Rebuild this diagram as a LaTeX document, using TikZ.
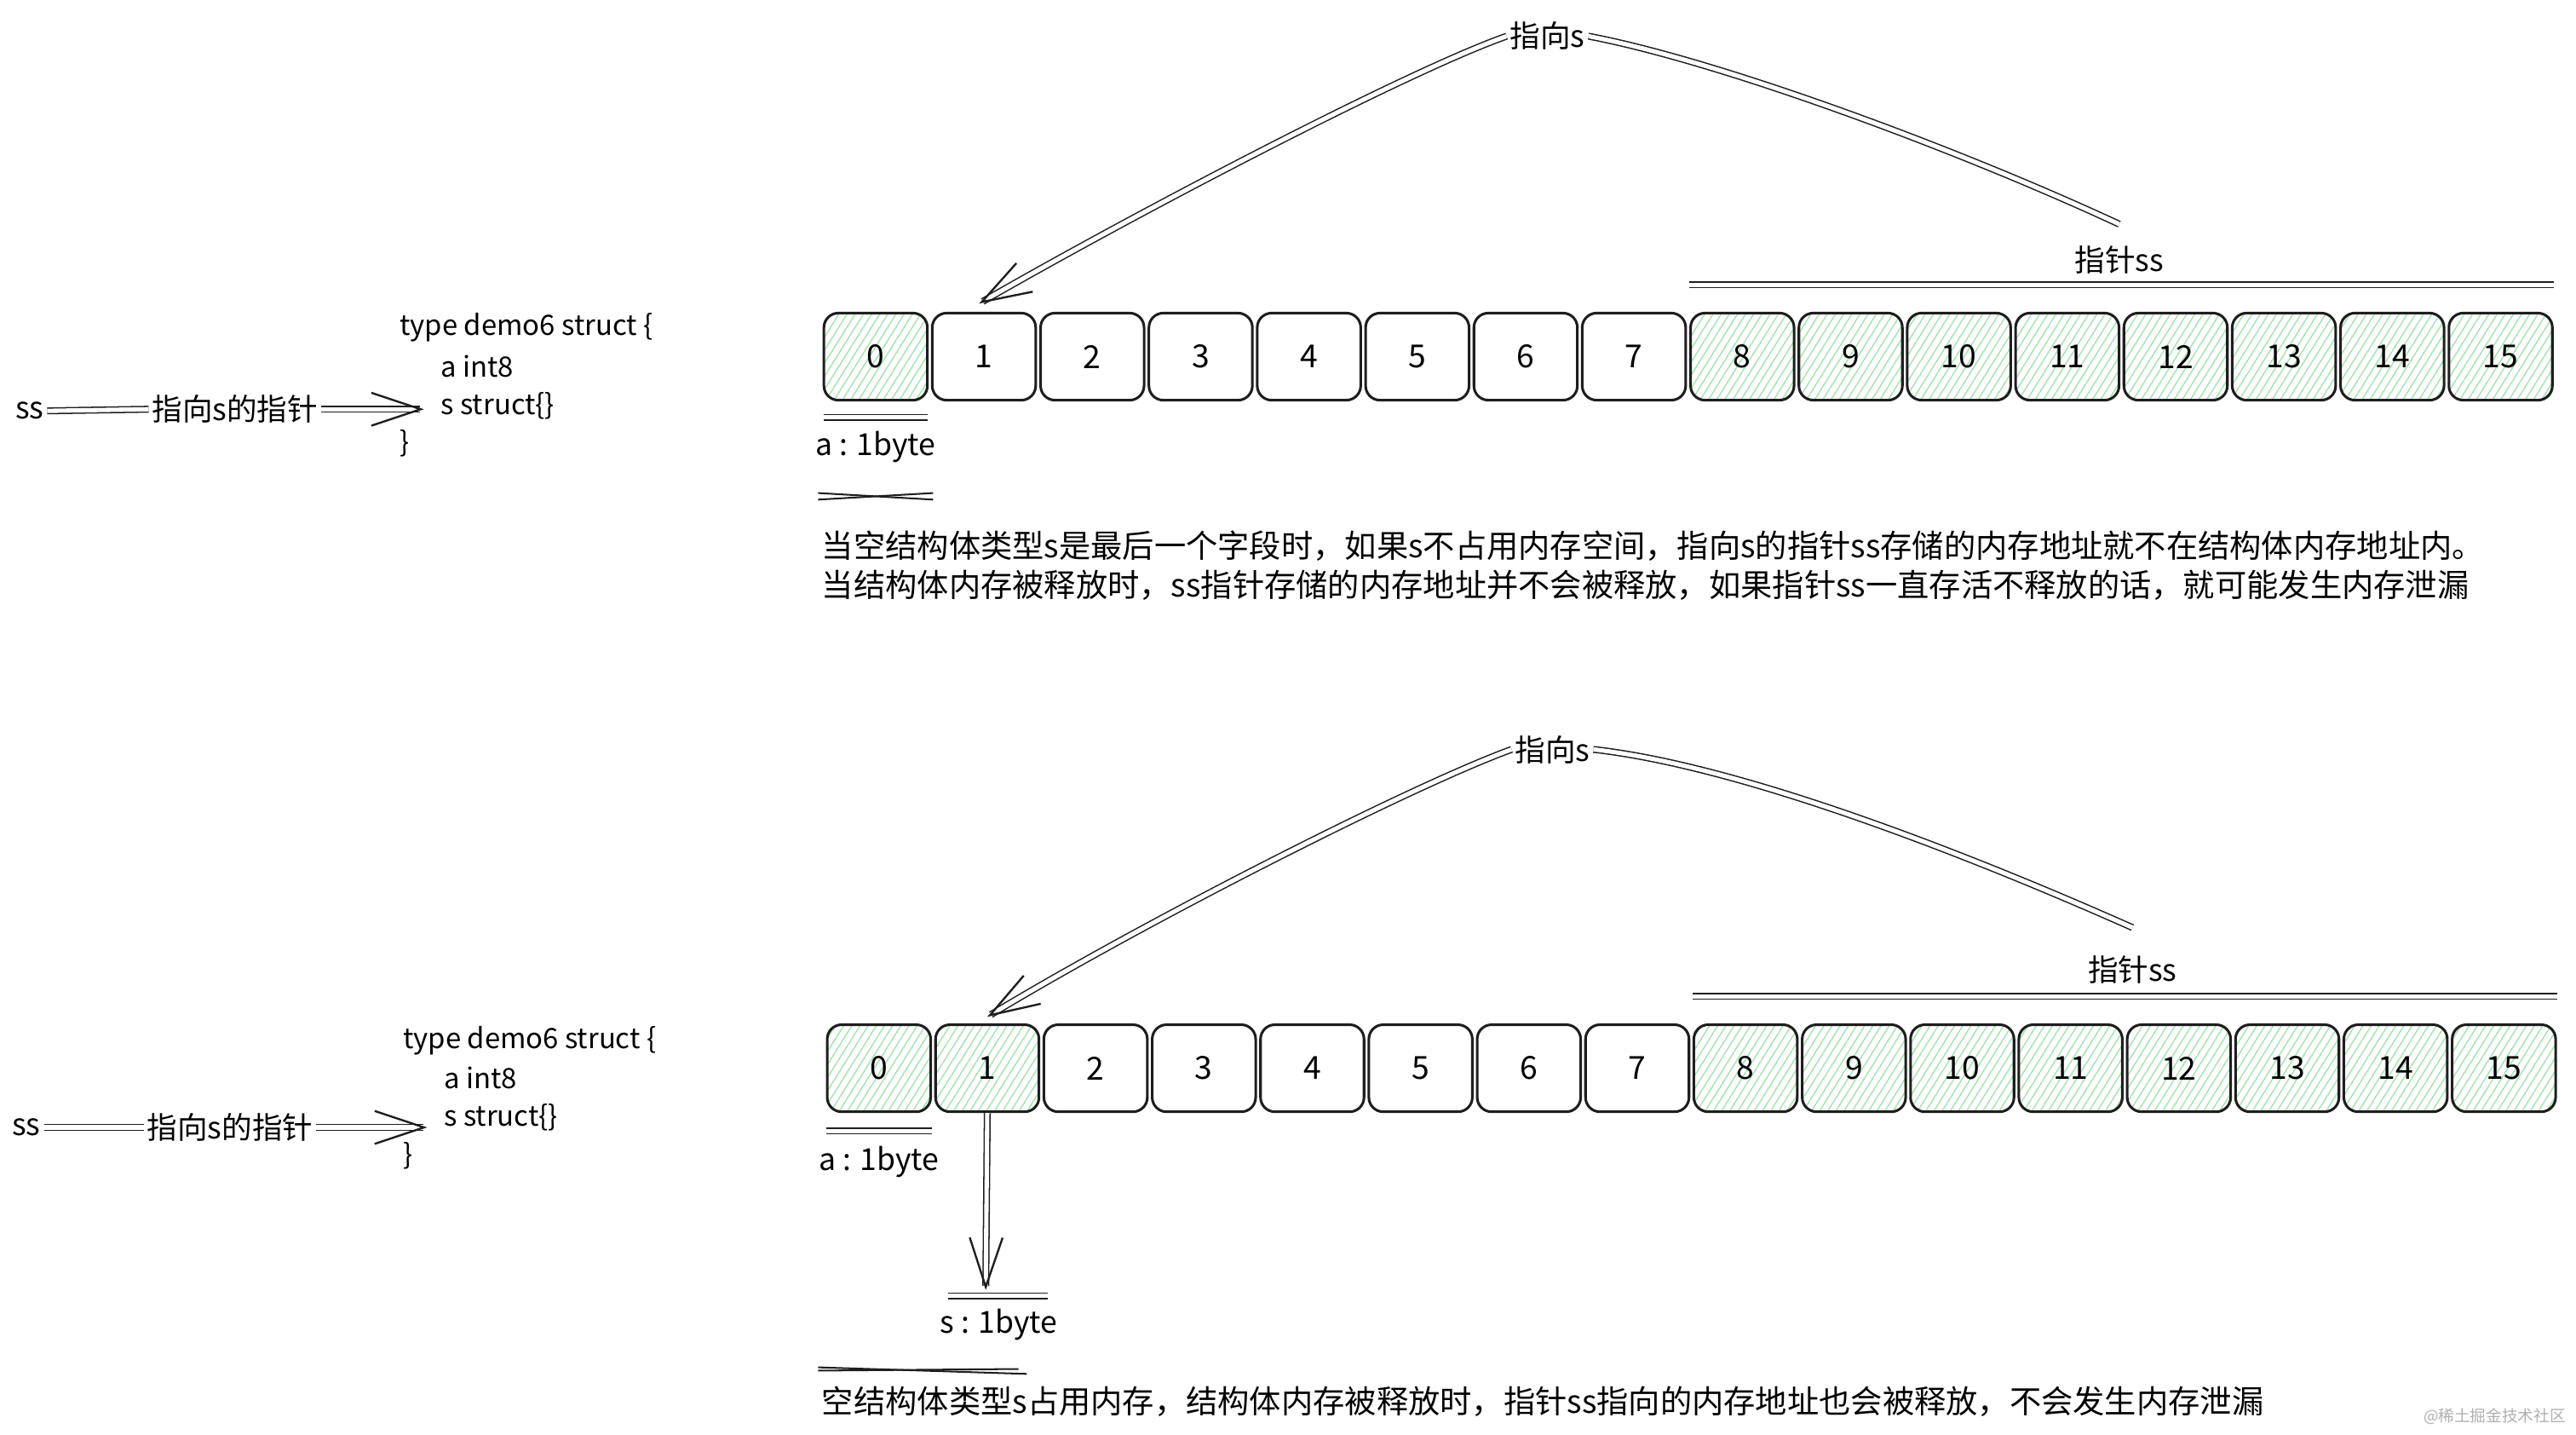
\documentclass[tikz,border=0pt]{standalone}
\usepackage{fontspec}
\setmainfont{Noto Sans CJK SC}
\usepackage{xcolor}
\usetikzlibrary{arrows.meta,positioning,patterns.meta}
\definecolor{ink}  {HTML}{1E1E1E}
\definecolor{hatch}{HTML}{9FE3AA}
\definecolor{mark} {HTML}{AFAFAF}
\tikzset{
  cell/.style={draw=ink,line width=0.9pt,rounded corners=5pt,minimum width=1.26cm,
    minimum height=1.06cm,inner sep=0pt,font=\fontsize{11}{13}\selectfont},
  hcell/.style={cell,pattern={Lines[angle=58,distance=2.4pt,line width=0.4pt]},pattern color=hatch},
  dline/.style={draw=ink,line width=0.45pt,double=white,double distance=1.5pt},
  barb/.style={-{Straight Barb[length=0.6cm,width=0.4cm,line width=0.7pt]}},
  lbl/.style={inner sep=1pt,font=\fontsize{10.5}{12}\selectfont},
  code/.style={anchor=west,inner sep=0pt,font=\fontsize{9.7}{12}\selectfont},
  body/.style={anchor=west,inner sep=0pt,font=\fontsize{11}{13}\selectfont},
}

\begin{document}
\begin{tikzpicture}[x=0.02cm,y=-0.02cm]
  \useasboundingbox (0,0) rectangle (1568,873);

  % ---- upper case: s is the last field ----
  \foreach \i in {1,...,7} {
    \node[cell] (tA\i) at (533+65.94*\i,217) {\i};
  }
  \foreach \i in {0,8,9,10,11,12,13,14,15} {
    \node[hcell] (tA\i) at (533+65.94*\i,217) {\i};
  }
  \node[lbl] (tpsA) at (942,22) {指向s};
  \node[lbl] (tssA) at (1290,158) {指针ss};
  \draw[dline] ([yshift=0.33cm]tA8.north west) -- ([yshift=0.33cm]tA15.north east);
  \draw[dline] (tpsA.east) .. controls (1046,37) and (1190,90) .. ([yshift=0.22cm]tssA.north);
  \draw[dline,barb] (tpsA.west) .. controls (860,42) and (700,125) .. ([xshift=-0.06cm,yshift=0.1cm]tA1.north);

  \draw[dline] ([yshift=-0.2cm]tA0.south west) -- ([yshift=-0.2cm]tA0.south east);
  \node[lbl] (szA) at (533,272) {a : 1byte};
  \draw[ink,line width=0.6pt] (498,300) -- (568,304);
  \draw[ink,line width=0.6pt] (498,304) -- (568,300);

  \node[body] (noteA1) at (500,332) {当空结构体类型s是最后一个字段时，如果s不占用内存空间，指向s的指针ss存储的内存地址就不在结构体内存地址内。};
  \node[body] (noteA2) at (500,356) {当结构体内存被释放时，ss指针存储的内存地址并不会被释放，如果指针ss一直存活不释放的话，就可能发生内存泄漏};

  \node[lbl] (ssA) at (18,250) {ss};
  \node[lbl] (ptrA) at (143,249) {指向s的指针};
  \node[code] (codeA1) at (243,199) {type demo6 struct \{};
  \node[code] (codeA2) at (268,223) {a int8};
  \node[code] (codeA3) at (268,247) {s struct\{\}};
  \node[code] (codeA4) at (243,270) {\}};
  \draw[dline] (ssA.east) -- (ptrA.west);
  \draw[dline,barb] (ptrA.east) -- ([xshift=-0.2cm]ptrA.east -| codeA3.west);

  % ---- lower case: s takes one byte ----
  \foreach \i in {2,...,7} {
    \node[cell] (tB\i) at (535+65.94*\i,650) {\i};
  }
  \foreach \i in {0,1,8,9,10,11,12,13,14,15} {
    \node[hcell] (tB\i) at (535+65.94*\i,650) {\i};
  }
  \node[lbl] (tpsB) at (945,456) {指向s};
  \node[lbl] (tssB) at (1298,590) {指针ss};
  \draw[dline] ([yshift=0.33cm]tB8.north west) -- ([yshift=0.33cm]tB15.north east);
  \draw[dline] (tpsB.east) .. controls (1060,466) and (1198,520) .. ([yshift=0.3cm]tssB.north);
  \draw[dline,barb] (tpsB.west) .. controls (862,477) and (700,559) .. ([yshift=0.08cm]tB1.north);

  \draw[dline] ([yshift=-0.22cm]tB0.south west) -- ([yshift=-0.22cm]tB0.south east);
  \node[lbl] (szB) at (535,707) {a : 1byte};
  \coordinate (sEnd) at (600,785);
  \draw[dline,barb] (tB1.south) -- (sEnd);
  \draw[dline] ([xshift=-0.46cm,yshift=-0.07cm]sEnd) -- ([xshift=0.76cm,yshift=-0.07cm]sEnd);
  \node[lbl] (szS) at (608,806) {s : 1byte};
  \draw[ink,line width=0.6pt] (498,832) -- (625,836);
  \draw[ink,line width=0.6pt] (498,834) -- (620,833);

  \node[body] (noteB) at (500,853) {空结构体类型s占用内存，结构体内存被释放时，指针ss指向的内存地址也会被释放，不会发生内存泄漏};

  \node[lbl] (ssB) at (16,686) {ss};
  \node[lbl] (ptrB) at (140,686) {指向s的指针};
  \node[code] (codeB1) at (245,633) {type demo6 struct \{};
  \node[code] (codeB2) at (270,656) {a int8};
  \node[code] (codeB3) at (270,680) {s struct\{\}};
  \node[code] (codeB4) at (245,703) {\}};
  \draw[dline] (ssB.east) -- (ptrB.west);
  \draw[dline,barb] (ptrB.east) -- ([xshift=-0.2cm]ptrB.east -| codeB3.west);

  \node[anchor=east,inner sep=0pt,text=mark,font=\fontsize{5.5}{6}\selectfont] (wmark) at (1562,862) {@稀土掘金技术社区};
\end{tikzpicture}
\end{document}
